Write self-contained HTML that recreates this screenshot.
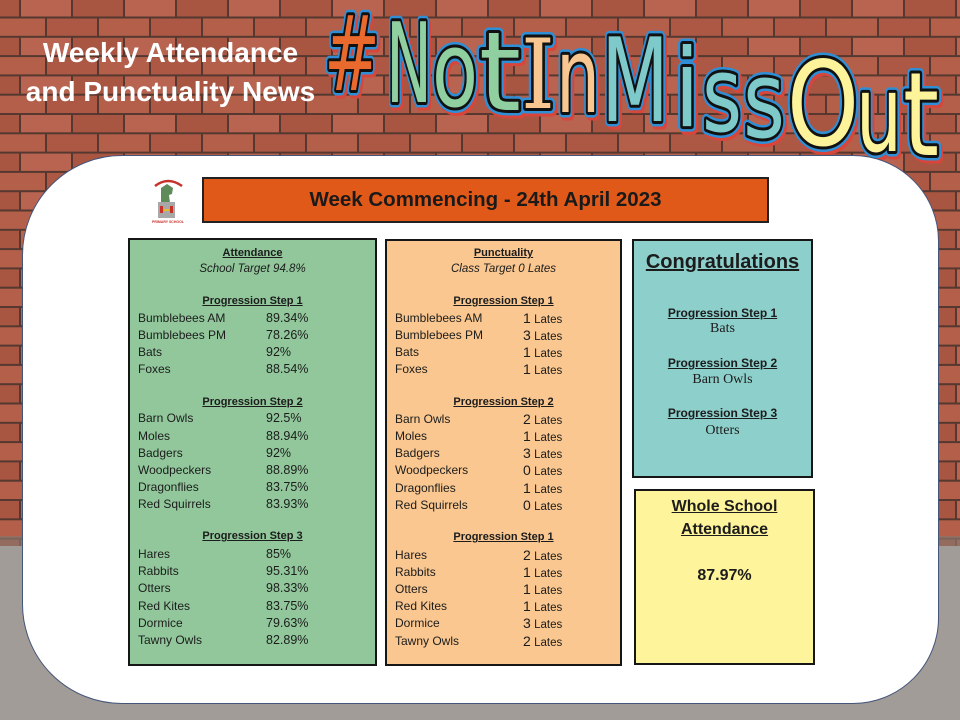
<!DOCTYPE html>
<html><head><meta charset="utf-8">
<style>
*{margin:0;padding:0;box-sizing:border-box}
body{width:960px;height:720px;overflow:hidden;position:relative;font-family:"Liberation Sans",sans-serif;background:#a19c97;color:#1c1c1c}
.t{position:absolute;white-space:nowrap;height:18px;line-height:18px;font-size:12px}
.c{text-align:center}
.h{font-weight:bold;text-decoration:underline;font-size:11px}
.v{font-size:12.5px}
.n{font-size:14px}
.lt{font-size:11.5px}
.box{position:absolute;border:2px solid #161616}
.se{font-family:"Liberation Serif",serif;font-size:14px}
</style></head><body>

<svg width="960" height="720" style="position:absolute;left:0;top:0">
  <defs>
    <pattern id="brick" x="20" y="17.5" width="104" height="38.6" patternUnits="userSpaceOnUse">
      <rect width="104" height="38.6" fill="#553830"/>
      <rect x="0" y="1" width="25" height="17.3" fill="#b45f4a"/>
      <rect x="27" y="1" width="50" height="17.3" fill="#ad5844"/>
      <rect x="79" y="1" width="25" height="17.3" fill="#b45f4a"/>
      <rect x="1" y="20.3" width="50" height="17.3" fill="#b86450"/>
      <rect x="53" y="20.3" width="50" height="17.3" fill="#a85542"/>
    </pattern>
  </defs>
  <rect x="0" y="0" width="960" height="546" fill="url(#brick)"/>
  <rect x="0" y="536" width="960" height="12" fill="#8a766c" opacity="0.7"/>
  <rect x="0" y="546" width="960" height="174" fill="#a19c97"/>
</svg>

<!-- title -->
<div style="position:absolute;left:0;top:37px;width:341px;text-align:center;color:#fff;font-weight:bold;font-size:28px;line-height:32px;white-space:nowrap">Weekly Attendance</div>
<div style="position:absolute;left:0;top:76px;width:341px;text-align:center;color:#fff;font-weight:bold;font-size:28px;line-height:32px;white-space:nowrap">and Punctuality News</div>

<!-- #NotInMissOut -->
<svg width="960" height="180" style="position:absolute;left:0;top:0" font-family="DejaVu Sans, sans-serif">
  <g fill="#d8453a" stroke="#d8453a" stroke-width="11" stroke-linejoin="round" transform="translate(2,3)">
    <text x="324" y="90" font-size="104" textLength="56" lengthAdjust="spacingAndGlyphs">#</text>
    <text x="386" y="102" font-size="111" textLength="46" lengthAdjust="spacingAndGlyphs">N</text>
    <text x="432" y="106" font-size="104" textLength="46" lengthAdjust="spacingAndGlyphs">o</text>
    <text x="479" y="110" font-size="110" textLength="42" lengthAdjust="spacingAndGlyphs">t</text>
    <text x="521" y="108" font-size="96" textLength="34" lengthAdjust="spacingAndGlyphs" font-family="DejaVu Serif, serif">I</text>
    <text x="556" y="112" font-size="104" textLength="44" lengthAdjust="spacingAndGlyphs">n</text>
    <text x="601" y="121" font-size="116" textLength="68" lengthAdjust="spacingAndGlyphs">M</text>
    <text x="674" y="126" font-size="108" textLength="26" lengthAdjust="spacingAndGlyphs">i</text>
    <text x="702" y="131" font-size="104" textLength="40" lengthAdjust="spacingAndGlyphs">s</text>
    <text x="743" y="137" font-size="106" textLength="42" lengthAdjust="spacingAndGlyphs">s</text>
    <text x="787" y="145" font-size="117" textLength="72" lengthAdjust="spacingAndGlyphs">O</text>
    <text x="856" y="151" font-size="106" textLength="46" lengthAdjust="spacingAndGlyphs">u</text>
    <text x="903" y="155" font-size="116" textLength="36" lengthAdjust="spacingAndGlyphs">t</text>
  </g>
  <g fill="#2f8fd6" stroke="#2f8fd6" stroke-width="11" stroke-linejoin="round">
    <text x="324" y="90" font-size="104" textLength="56" lengthAdjust="spacingAndGlyphs">#</text>
    <text x="386" y="102" font-size="111" textLength="46" lengthAdjust="spacingAndGlyphs">N</text>
    <text x="432" y="106" font-size="104" textLength="46" lengthAdjust="spacingAndGlyphs">o</text>
    <text x="479" y="110" font-size="110" textLength="42" lengthAdjust="spacingAndGlyphs">t</text>
    <text x="521" y="108" font-size="96" textLength="34" lengthAdjust="spacingAndGlyphs" font-family="DejaVu Serif, serif">I</text>
    <text x="556" y="112" font-size="104" textLength="44" lengthAdjust="spacingAndGlyphs">n</text>
    <text x="601" y="121" font-size="116" textLength="68" lengthAdjust="spacingAndGlyphs">M</text>
    <text x="674" y="126" font-size="108" textLength="26" lengthAdjust="spacingAndGlyphs">i</text>
    <text x="702" y="131" font-size="104" textLength="40" lengthAdjust="spacingAndGlyphs">s</text>
    <text x="743" y="137" font-size="106" textLength="42" lengthAdjust="spacingAndGlyphs">s</text>
    <text x="787" y="145" font-size="117" textLength="72" lengthAdjust="spacingAndGlyphs">O</text>
    <text x="856" y="151" font-size="106" textLength="46" lengthAdjust="spacingAndGlyphs">u</text>
    <text x="903" y="155" font-size="116" textLength="36" lengthAdjust="spacingAndGlyphs">t</text>
  </g>
  <g stroke="#111" stroke-width="6" stroke-linejoin="round" paint-order="stroke">
    <text x="324" y="90" font-size="104" textLength="56" lengthAdjust="spacingAndGlyphs" fill="#ea6a2e">#</text>
    <text x="386" y="102" font-size="111" textLength="46" lengthAdjust="spacingAndGlyphs" fill="#8fcfa0">N</text>
    <text x="432" y="106" font-size="104" textLength="46" lengthAdjust="spacingAndGlyphs" fill="#8fcfa0">o</text>
    <text x="479" y="110" font-size="110" textLength="42" lengthAdjust="spacingAndGlyphs" fill="#8fcfa0">t</text>
    <text x="521" y="108" font-size="96" textLength="34" lengthAdjust="spacingAndGlyphs" fill="#f8c690" font-family="DejaVu Serif, serif">I</text>
    <text x="556" y="112" font-size="104" textLength="44" lengthAdjust="spacingAndGlyphs" fill="#f8c690">n</text>
    <text x="601" y="121" font-size="116" textLength="68" lengthAdjust="spacingAndGlyphs" fill="#7ecaca">M</text>
    <text x="674" y="126" font-size="108" textLength="26" lengthAdjust="spacingAndGlyphs" fill="#7ecaca">i</text>
    <text x="702" y="131" font-size="104" textLength="40" lengthAdjust="spacingAndGlyphs" fill="#7ecaca">s</text>
    <text x="743" y="137" font-size="106" textLength="42" lengthAdjust="spacingAndGlyphs" fill="#7ecaca">s</text>
    <text x="787" y="145" font-size="117" textLength="72" lengthAdjust="spacingAndGlyphs" fill="#fdf39a">O</text>
    <text x="856" y="151" font-size="106" textLength="46" lengthAdjust="spacingAndGlyphs" fill="#fdf39a">u</text>
    <text x="903" y="155" font-size="116" textLength="36" lengthAdjust="spacingAndGlyphs" fill="#fdf39a">t</text>
  </g>
</svg>

<!-- white panel -->
<div style="position:absolute;left:22px;top:155px;width:917px;height:549px;background:#fff;border:1.5px solid #44557a;border-radius:100px 86px 86px 100px"></div>

<!-- logo -->
<svg width="50" height="50" style="position:absolute;left:143px;top:176px">
  <path d="M12 10 Q25 0 39 10" fill="none" stroke="#c8302a" stroke-width="2.5"/>
  <path d="M18 12 L24 8 L30 12 L29 18 L26 19 L27 27 L18 27 Z" fill="#5f8a5a"/>
  <rect x="15" y="26" width="17" height="16" fill="#a8a8a8"/>
  <rect x="17" y="30" width="3" height="7" fill="#c8302a"/>
  <rect x="27" y="30" width="3" height="7" fill="#c8302a"/>
  <rect x="21" y="33" width="5" height="2" fill="#e0c030"/>
  <text x="25" y="47" font-size="3.5" font-family="Liberation Sans" font-weight="bold" fill="#c8302a" text-anchor="middle">PRIMARY SCHOOL</text>
</svg>

<!-- banner -->
<div style="position:absolute;left:202px;top:177px;width:567px;height:46px;background:#e15919;border:2px solid #222;text-align:center;line-height:41px;font-weight:bold;font-size:20.5px;color:#1a1a1a;white-space:nowrap">Week Commencing - 24th April 2023</div>

<!-- green box -->
<div class="box" style="left:128px;top:238px;width:249px;height:428px;background:#91c79b"></div>
<div class="t c h" style="top:243.5px;left:128px;width:249px">Attendance</div>
<div class="t c" style="top:259.5px;left:128px;width:249px;font-style:italic;font-size:11.5px">School Target 94.8%</div>
<div class="t c h" style="top:291.7px;left:128px;width:249px">Progression Step 1</div>
<div class="t" style="top:308.5px;left:138px">Bumblebees AM</div><div class="t v" style="top:308.5px;left:266px">89.34%</div>
<div class="t" style="top:325.5px;left:138px">Bumblebees PM</div><div class="t v" style="top:325.5px;left:266px">78.26%</div>
<div class="t" style="top:342.5px;left:138px">Bats</div><div class="t v" style="top:342.5px;left:266px">92%</div>
<div class="t" style="top:359.5px;left:138px">Foxes</div><div class="t v" style="top:359.5px;left:266px">88.54%</div>
<div class="t c h" style="top:392.5px;left:128px;width:249px">Progression Step 2</div>
<div class="t" style="top:409px;left:138px">Barn Owls</div><div class="t v" style="top:409px;left:266px">92.5%</div>
<div class="t" style="top:426.5px;left:138px">Moles</div><div class="t v" style="top:426.5px;left:266px">88.94%</div>
<div class="t" style="top:443.5px;left:138px">Badgers</div><div class="t v" style="top:443.5px;left:266px">92%</div>
<div class="t" style="top:460.5px;left:138px">Woodpeckers</div><div class="t v" style="top:460.5px;left:266px">88.89%</div>
<div class="t" style="top:478px;left:138px">Dragonflies</div><div class="t v" style="top:478px;left:266px">83.75%</div>
<div class="t" style="top:495.3px;left:138px">Red Squirrels</div><div class="t v" style="top:495.3px;left:266px">83.93%</div>
<div class="t c h" style="top:527px;left:128px;width:249px">Progression Step 3</div>
<div class="t" style="top:545px;left:138px">Hares</div><div class="t v" style="top:545px;left:266px">85%</div>
<div class="t" style="top:562px;left:138px">Rabbits</div><div class="t v" style="top:562px;left:266px">95.31%</div>
<div class="t" style="top:579px;left:138px">Otters</div><div class="t v" style="top:579px;left:266px">98.33%</div>
<div class="t" style="top:596.5px;left:138px">Red Kites</div><div class="t v" style="top:596.5px;left:266px">83.75%</div>
<div class="t" style="top:613.7px;left:138px">Dormice</div><div class="t v" style="top:613.7px;left:266px">79.63%</div>
<div class="t" style="top:631px;left:138px">Tawny Owls</div><div class="t v" style="top:631px;left:266px">82.89%</div>

<!-- orange box -->
<div class="box" style="left:385px;top:239px;width:237px;height:427px;background:#f9c78f"></div>
<div class="t c h" style="top:244.3px;left:385px;width:237px">Punctuality</div>
<div class="t c" style="top:260px;left:385px;width:237px;font-style:italic;font-size:11.5px">Class Target 0 Lates</div>
<div class="t c h" style="top:291.7px;left:385px;width:237px">Progression Step 1</div>
<div class="t" style="top:308.7px;left:395px">Bumblebees AM</div><div class="t" style="top:308.7px;left:523px"><span class="n">1</span> <span class="lt">Lates</span></div>
<div class="t" style="top:325.7px;left:395px">Bumblebees PM</div><div class="t" style="top:325.7px;left:523px"><span class="n">3</span> <span class="lt">Lates</span></div>
<div class="t" style="top:343px;left:395px">Bats</div><div class="t" style="top:343px;left:523px"><span class="n">1</span> <span class="lt">Lates</span></div>
<div class="t" style="top:360px;left:395px">Foxes</div><div class="t" style="top:360px;left:523px"><span class="n">1</span> <span class="lt">Lates</span></div>
<div class="t c h" style="top:392.5px;left:385px;width:237px">Progression Step 2</div>
<div class="t" style="top:409.5px;left:395px">Barn Owls</div><div class="t" style="top:409.5px;left:523px"><span class="n">2</span> <span class="lt">Lates</span></div>
<div class="t" style="top:427px;left:395px">Moles</div><div class="t" style="top:427px;left:523px"><span class="n">1</span> <span class="lt">Lates</span></div>
<div class="t" style="top:444px;left:395px">Badgers</div><div class="t" style="top:444px;left:523px"><span class="n">3</span> <span class="lt">Lates</span></div>
<div class="t" style="top:461px;left:395px">Woodpeckers</div><div class="t" style="top:461px;left:523px"><span class="n">0</span> <span class="lt">Lates</span></div>
<div class="t" style="top:478.5px;left:395px">Dragonflies</div><div class="t" style="top:478.5px;left:523px"><span class="n">1</span> <span class="lt">Lates</span></div>
<div class="t" style="top:496px;left:395px">Red Squirrels</div><div class="t" style="top:496px;left:523px"><span class="n">0</span> <span class="lt">Lates</span></div>
<div class="t c h" style="top:528px;left:385px;width:237px">Progression Step 1</div>
<div class="t" style="top:545.5px;left:395px">Hares</div><div class="t" style="top:545.5px;left:523px"><span class="n">2</span> <span class="lt">Lates</span></div>
<div class="t" style="top:563px;left:395px">Rabbits</div><div class="t" style="top:563px;left:523px"><span class="n">1</span> <span class="lt">Lates</span></div>
<div class="t" style="top:580px;left:395px">Otters</div><div class="t" style="top:580px;left:523px"><span class="n">1</span> <span class="lt">Lates</span></div>
<div class="t" style="top:597px;left:395px">Red Kites</div><div class="t" style="top:597px;left:523px"><span class="n">1</span> <span class="lt">Lates</span></div>
<div class="t" style="top:614px;left:395px">Dormice</div><div class="t" style="top:614px;left:523px"><span class="n">3</span> <span class="lt">Lates</span></div>
<div class="t" style="top:632px;left:395px">Tawny Owls</div><div class="t" style="top:632px;left:523px"><span class="n">2</span> <span class="lt">Lates</span></div>

<!-- teal box -->
<div class="box" style="left:632px;top:239px;width:181px;height:239px;background:#8dcfcb"></div>
<div class="t c" style="top:250px;left:632px;width:181px;height:24px;line-height:24px;font-size:20px;font-weight:bold;text-decoration:underline">Congratulations</div>
<div class="t c" style="top:303.7px;left:632px;width:181px;font-weight:bold;text-decoration:underline">Progression Step 1</div>
<div class="t c se" style="top:320.3px;left:632px;width:181px">Bats</div>
<div class="t c" style="top:354.3px;left:632px;width:181px;font-weight:bold;text-decoration:underline">Progression Step 2</div>
<div class="t c se" style="top:371px;left:632px;width:181px">Barn Owls</div>
<div class="t c" style="top:404.3px;left:632px;width:181px;font-weight:bold;text-decoration:underline">Progression Step 3</div>
<div class="t c se" style="top:422px;left:632px;width:181px">Otters</div>

<!-- yellow box -->
<div class="box" style="left:634px;top:489px;width:181px;height:176px;background:#fef49b"></div>
<div class="t c" style="top:497px;left:634px;width:181px;height:20px;line-height:20px;font-size:16px;font-weight:bold;text-decoration:underline">Whole School</div>
<div class="t c" style="top:519.6px;left:634px;width:181px;height:20px;line-height:20px;font-size:16px;font-weight:bold;text-decoration:underline">Attendance</div>
<div class="t c" style="top:566.3px;left:634px;width:181px;height:20px;line-height:20px;font-size:16px;font-weight:bold">87.97%</div>

</body></html>
